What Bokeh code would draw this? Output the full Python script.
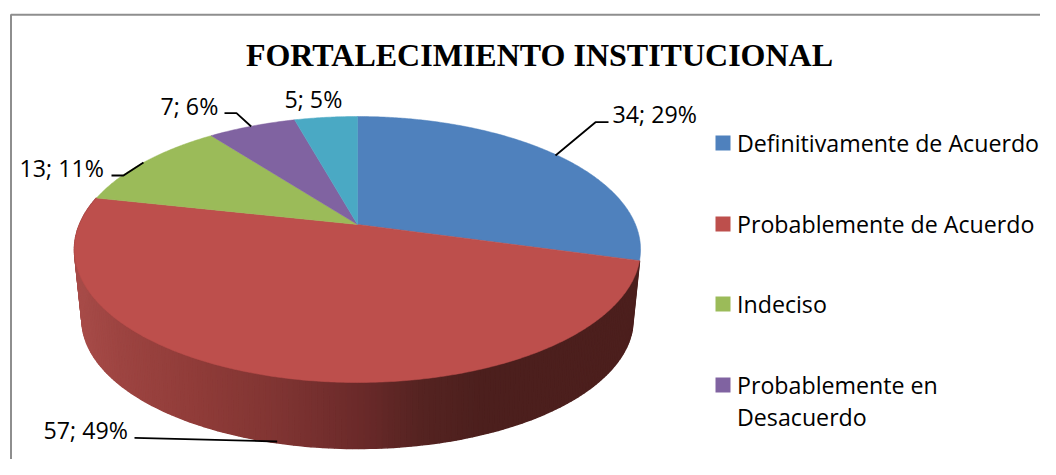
import math
from bokeh.plotting import figure
from bokeh.models import Range1d
from bokeh.core.properties import value
from bokeh.embed import file_html
from bokeh.resources import INLINE

title = "FORTALECIMIENTO INSTITUCIONAL"
categories = ["Definitivamente de Acuerdo", "Probablemente de Acuerdo", "Indeciso",
              "Probablemente en Desacuerdo", "Definitivamente en Desacuerdo"]
counts = [34, 57, 13, 7, 5]
percents = [29, 49, 11, 6, 5]
colors = ["#4f81bd", "#bd4f4c", "#9bbb59", "#8063a1", "#4aa9c4"]

legend_lines = [["Definitivamente de Acuerdo"], ["Probablemente de Acuerdo"], ["Indeciso"],
                ["Probablemente en", "Desacuerdo"]]
legend_y = [142.5, 223.5, 303.5, 384.5]

W, H = 1040, 459
p = figure(width=W, height=H, x_range=Range1d(0, W), y_range=Range1d(H, 0),
           toolbar_location=None, output_backend="svg", min_border=0,
           x_axis_type=None, y_axis_type=None, background_fill_color="white",
           border_fill_color="white", outline_line_color=None)
p.grid.visible = False

# frame of the chart
p.line([10.5, 10.5, W], [H, 14.3, 14.3], line_color="#8e8e8e", line_width=2)


def project(theta_deg, cx, cy, A, B, k):
    t = math.radians(theta_deg)
    a, b = math.sin(t), -math.cos(t)
    d = 1 - k * b
    return cx + A * a / d, cy + B * b / d


TOP = (357, 224, 278, 128.3, 0.188)
BOT = (357, 293, 270, 124, 0.20)

total = sum(counts)
bounds = [0]
for c in counts:
    bounds.append(bounds[-1] + c / total * 360)

# side wall of the red slice, shaded left to right
stops_x = [74, 120, 200, 280, 357, 420, 480, 640]
stops_c = [(168, 76, 73), (157, 68, 65), (143, 59, 56), (127, 52, 50), (107, 42, 42),
           (85, 35, 33), (76, 31, 29), (76, 31, 29)]


def shade(x):
    for i in range(len(stops_x) - 1):
        if x <= stops_x[i + 1]:
            f = max(0, (x - stops_x[i]) / (stops_x[i + 1] - stops_x[i]))
            c = [round(stops_c[i][j] + f * (stops_c[i + 1][j] - stops_c[i][j])) for j in range(3)]
            return "#%02x%02x%02x" % tuple(c)
    return "#%02x%02x%02x" % stops_c[-1]


steps = int(bounds[2] - bounds[1])
xs, ys, cols = [], [], []
for i in range(steps):
    t0 = bounds[1] + (bounds[2] - bounds[1]) * i / steps
    t1 = bounds[1] + (bounds[2] - bounds[1]) * (i + 1) / steps
    p0, p1 = project(t0, *TOP), project(t1, *TOP)
    q0, q1 = project(t0, *BOT), project(t1, *BOT)
    xs.append([p0[0], p1[0], q1[0], q0[0]])
    ys.append([p0[1], p1[1], q1[1], q0[1]])
    cols.append(shade((p0[0] + p1[0] + q0[0] + q1[0]) / 4))
p.patches(xs, ys, fill_color=cols, line_color=cols, line_width=1.5)

# top face
for i, col in enumerate(colors):
    n = max(4, int(bounds[i + 1] - bounds[i]) * 2)
    ts = [bounds[i] + (bounds[i + 1] - bounds[i]) * j / n for j in range(n + 1)]
    pts = [project(t, *TOP) for t in ts]
    p.patch([TOP[0]] + [q[0] for q in pts], [TOP[1]] + [q[1] for q in pts],
            fill_color=col, line_color=col, line_width=0.5)

# leader lines
leaders = [([608, 595, 555], [121.7, 121.7, 155]),
           ([134, 276.7], [437.3, 441]),
           ([111, 123, 143], [175, 175, 162]),
           ([224, 236, 250.7], [112.7, 112.7, 126])]
for lx, ly in leaders:
    p.line(lx, ly, line_color="black", line_width=1.8)

FONT = "Open Sans"
FS = "23.2px"

label_x = [612, 43, 19, 160, 284]
label_y = [113.5, 429.5, 167, 105, 98]
label_text = [f"{c}; {q}%" for c, q in zip(counts, percents)]
p.text(label_x, label_y, text=label_text, text_font=value(FONT), text_font_size=value(FS),
       text_baseline="middle", text_align="left", text_color="black")

p.text([539], [54.5], text=[title], text_font=value("Liberation Serif"),
       text_font_style="bold", text_font_size=value("32px"),
       text_align="center", text_baseline="middle", text_color="black")

# legend (the fifth entry is cut off in the original)
for lines, y, col in zip(legend_lines, legend_y, colors):
    p.quad(left=[715], right=[730], top=[y - 7.5], bottom=[y + 7.5], fill_color=col, line_color=None)
    for j, s in enumerate(lines):
        p.text([736.5], [y + j * 31.5], text=[s], text_font=value(FONT), text_font_size=value(FS),
               text_baseline="middle", text_align="left", text_color="black")

open("out.html", "w").write(file_html(p, INLINE))
